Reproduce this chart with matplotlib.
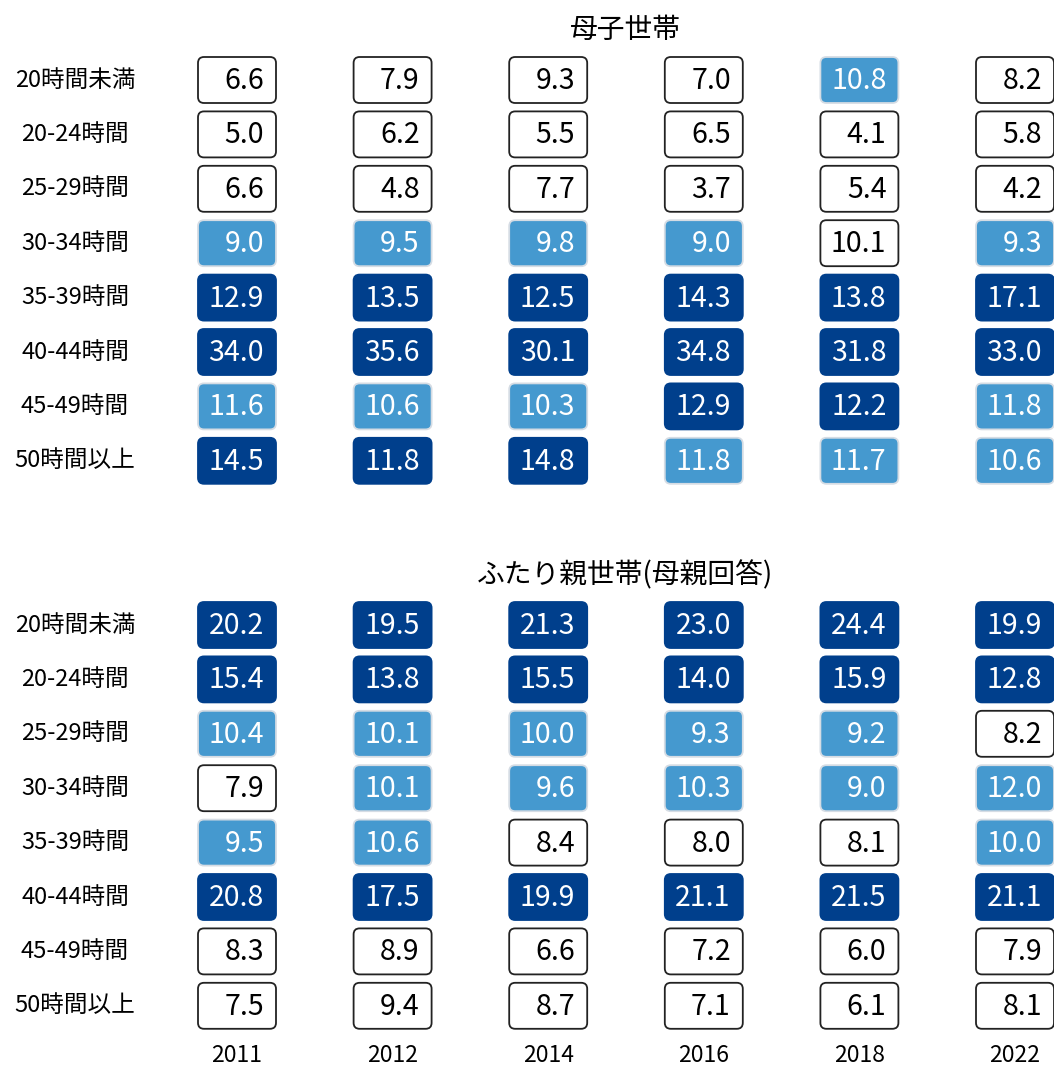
import matplotlib
matplotlib.use('Agg')
from matplotlib import pyplot as plt
from matplotlib.patches import FancyBboxPatch

plt.rcParams['font.family'] = ['Noto Sans CJK JP', 'DejaVu Sans']

years = ['2011', '2012', '2014', '2016', '2018', '2022']
hours = ['20時間未満', '20-24時間', '25-29時間', '30-34時間',
         '35-39時間', '40-44時間', '45-49時間', '50時間以上']

# 母子世帯
single_vals = [
    [6.6, 7.9, 9.3, 7.0, 10.8, 8.2],
    [5.0, 6.2, 5.5, 6.5, 4.1, 5.8],
    [6.6, 4.8, 7.7, 3.7, 5.4, 4.2],
    [9.0, 9.5, 9.8, 9.0, 10.1, 9.3],
    [12.9, 13.5, 12.5, 14.3, 13.8, 17.1],
    [34.0, 35.6, 30.1, 34.8, 31.8, 33.0],
    [11.6, 10.6, 10.3, 12.9, 12.2, 11.8],
    [14.5, 11.8, 14.8, 11.8, 11.7, 10.6],
]
# 0 = white, 1 = light blue, 2 = dark blue
single_lvl = [
    [0, 0, 0, 0, 1, 0],
    [0, 0, 0, 0, 0, 0],
    [0, 0, 0, 0, 0, 0],
    [1, 1, 1, 1, 0, 1],
    [2, 2, 2, 2, 2, 2],
    [2, 2, 2, 2, 2, 2],
    [1, 1, 1, 2, 2, 1],
    [2, 2, 2, 1, 1, 1],
]

# ふたり親世帯(母親回答)
two_vals = [
    [20.2, 19.5, 21.3, 23.0, 24.4, 19.9],
    [15.4, 13.8, 15.5, 14.0, 15.9, 12.8],
    [10.4, 10.1, 10.0, 9.3, 9.2, 8.2],
    [7.9, 10.1, 9.6, 10.3, 9.0, 12.0],
    [9.5, 10.6, 8.4, 8.0, 8.1, 10.0],
    [20.8, 17.5, 19.9, 21.1, 21.5, 21.1],
    [8.3, 8.9, 6.6, 7.2, 6.0, 7.9],
    [7.5, 9.4, 8.7, 7.1, 6.1, 8.1],
]
two_lvl = [
    [2, 2, 2, 2, 2, 2],
    [2, 2, 2, 2, 2, 2],
    [1, 1, 1, 1, 1, 0],
    [0, 1, 1, 1, 1, 1],
    [1, 1, 0, 0, 0, 1],
    [2, 2, 2, 2, 2, 2],
    [0, 0, 0, 0, 0, 0],
    [0, 0, 0, 0, 0, 0],
]

face = {0: 'white', 1: '#4599cf', 2: '#003f8c'}
edge = {0: '#222222', 1: '#d5dce4', 2: '#003f8c'}
tcol = {0: 'black', 1: 'white', 2: 'white'}

fig = plt.figure(figsize=(10.54, 10.68), dpi=100)
ax = fig.add_axes([0, 0, 1, 1])
ax.set_xlim(0, 1054)
ax.set_ylim(1068, 0)
ax.axis('off')

col_x0, col_dx = 237, 155.6
row_dy = 54.4
bw, bh = 72, 40


def panel(title, vals, lvl, y0):
    ax.text(625, y0 - 50, title, ha='center', va='center', fontsize=20)
    for i, lab in enumerate(hours):
        y = y0 + i * row_dy
        ax.text(75, y, lab, ha='center', va='center', fontsize=17)
        for j in range(len(years)):
            x = col_x0 + j * col_dx
            k = lvl[i][j]
            ax.add_patch(FancyBboxPatch((x - bw / 2, y - bh / 2), bw, bh,
                                        boxstyle='round,pad=3,rounding_size=6',
                                        fc=face[k], ec=edge[k], lw=1.3))
            ax.text(x + bw / 2 - 9, y + 1, f'{vals[i][j]:.1f}', ha='right', va='center',
                    fontsize=20.5, color=tcol[k])


panel('母子世帯', single_vals, single_lvl, 80)
panel('ふたり親世帯(母親回答)', two_vals, two_lvl, 625)

for j, yr in enumerate(years):
    ax.text(col_x0 + j * col_dx, 1055, yr, ha='center', va='center', fontsize=16.5)

fig.savefig('out.png', dpi=100)
